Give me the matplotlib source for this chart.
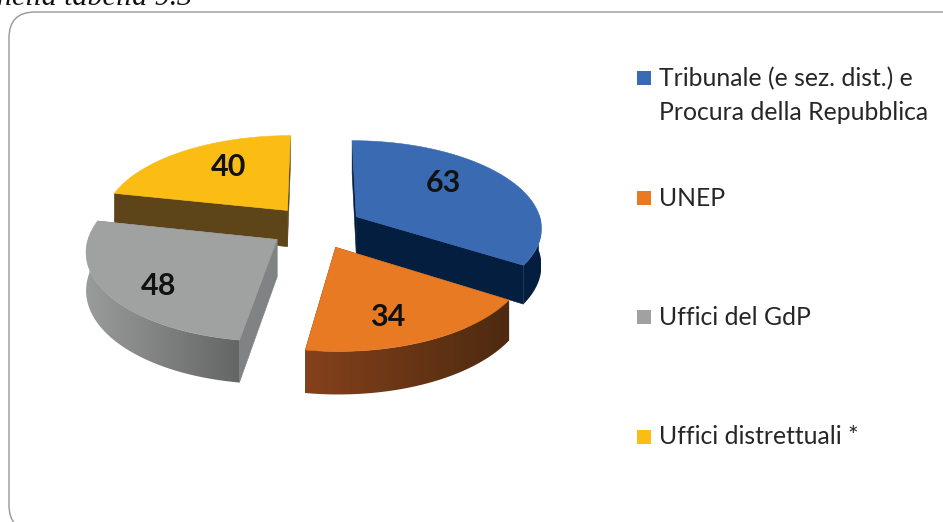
import numpy as np
import matplotlib
matplotlib.use("Agg")
import matplotlib.pyplot as plt
from matplotlib.colors import to_rgb
from matplotlib.patches import FancyBboxPatch, Polygon, Rectangle

categories = [
    "Tribunale (e sez. dist.) e\nProcura della Repubblica",
    "UNEP",
    "Uffici del GdP",
    "Uffici distrettuali *",
]
values = [63, 34, 48, 40]

top_colors = ["#3a6ab2", "#e97a24", "#a0a2a2", "#fbbd13"]
side_left = ["#041e40", "#85411b", "#9a9b9b", "#5e4519"]
side_right = ["#041e40", "#4d2a10", "#646565", "#5e4519"]
cut_colors = ["#041e40", "#5a2f10", "#808383", "#5e4519"]
# where each number sits in its slice: share of the sweep, share of the radius
label_sweep = [0.41, 0.58, 0.44, 0.585]
label_radius = [0.66, 0.74, 0.76, 0.66]
draw_order = [3, 0, 2, 1]

CX, CY = 316, 227
RX, RY = 186, 87
PERSPECTIVE = 0.115
EXPLODE = 0.25
DEPTH = 37


def project(u, v, drop=0.0):
    scale = 1 / (1 + PERSPECTIVE * np.asarray(v))
    return CX + RX * np.asarray(u) * scale, CY - RY * np.asarray(v) * scale + drop * scale


def quad(ax, x0, y0, x1, y1, x2, y2, x3, y3, color, zorder):
    ax.add_patch(Polygon([(x0, y0), (x1, y1), (x2, y2), (x3, y3)], closed=True, facecolor=color,
                         edgecolor=color, linewidth=0.4, zorder=zorder))


def draw_wall(ax, i, top_x, top_y, low_x, low_y, zorder):
    # outer wall, shaded left to right through a clipped gradient
    wall = Polygon(np.column_stack([np.r_[top_x, low_x[::-1]], np.r_[top_y, low_y[::-1]]]),
                   closed=True, facecolor="none", edgecolor="none", zorder=zorder)
    ax.add_patch(wall)
    left, right = np.array(to_rgb(side_left[i])), np.array(to_rgb(side_right[i]))
    shade = np.linspace(0, 1, 128)[:, None]
    ramp = (left + (right - left) * shade)[None, :, :]
    image = ax.imshow(ramp, extent=(top_x.min(), top_x.max(), 522, 0), aspect="auto",
                      interpolation="bilinear", zorder=zorder)
    image.set_clip_path(wall)


def draw_slice(ax, i, start, stop, zorder):
    mid = np.radians((start + stop) / 2)
    au, av = EXPLODE * np.sin(mid), EXPLODE * np.cos(mid)
    theta = np.radians(np.linspace(start, stop, 90))
    u = au + np.sin(theta)
    v = av + np.cos(theta)
    top_x, top_y = project(u, v)
    low_x, low_y = project(u, v, DEPTH)
    ax_top, ay_top = project(au, av)
    ax_low, ay_low = project(au, av, DEPTH)

    # cut faces
    for k in (0, -1):
        quad(ax, ax_top, ay_top, top_x[k], top_y[k], low_x[k], low_y[k], ax_low, ay_low, cut_colors[i], zorder)

    front = np.cos(theta) < 0.05
    if front.any():
        draw_wall(ax, i, top_x[front], top_y[front], low_x[front], low_y[front], zorder + 0.1)

    outline = np.column_stack([np.r_[ax_top, top_x], np.r_[ay_top, top_y]])
    ax.add_patch(Polygon(outline, closed=True, facecolor=top_colors[i], edgecolor=top_colors[i], linewidth=0.4,
                         zorder=zorder + 0.2))

    angle = np.radians(start + (stop - start) * label_sweep[i])
    lx, ly = project(au + label_radius[i] * np.sin(angle), av + label_radius[i] * np.cos(angle))
    ax.text(lx, ly, str(values[i]), fontsize=22, fontweight="bold", family="Lato", color="#111111",
            ha="center", va="center", zorder=20)


def main():
    fig = plt.figure(figsize=(9.43, 5.22), dpi=100)
    ax = fig.add_axes([0, 0, 1, 1])

    ax.add_patch(FancyBboxPatch((9, 12), 1000, 519, boxstyle="round,pad=0,rounding_size=26",
                                facecolor="white", edgecolor="#979797", linewidth=1.0, zorder=0))
    ax.text(192, 5, "nella tabella 9.3", fontsize=21.5, style="italic", family="Liberation Serif",
            color="#111111", ha="right", va="baseline", zorder=1)

    sweeps = np.array(values) / sum(values) * 360
    stops = np.cumsum(sweeps)
    starts = stops - sweeps
    for rank, i in enumerate(draw_order):
        draw_slice(ax, i, starts[i], stops[i], 2 + rank)

    for i, label in enumerate(categories):
        y = 77 + 119.5 * i
        ax.add_patch(Rectangle((637, y - 6), 14, 14, facecolor=top_colors[i], edgecolor="none", zorder=5))
        ax.text(659, y - 10, label, fontsize=17.8, family="Lato", color="#262626", ha="left", va="top",
                linespacing=1.57, zorder=5)

    ax.set_xlim(0, 943)
    ax.set_ylim(522, 0)
    ax.axis("off")
    fig.savefig("out.png", dpi=100)


if __name__ == "__main__":
    main()
